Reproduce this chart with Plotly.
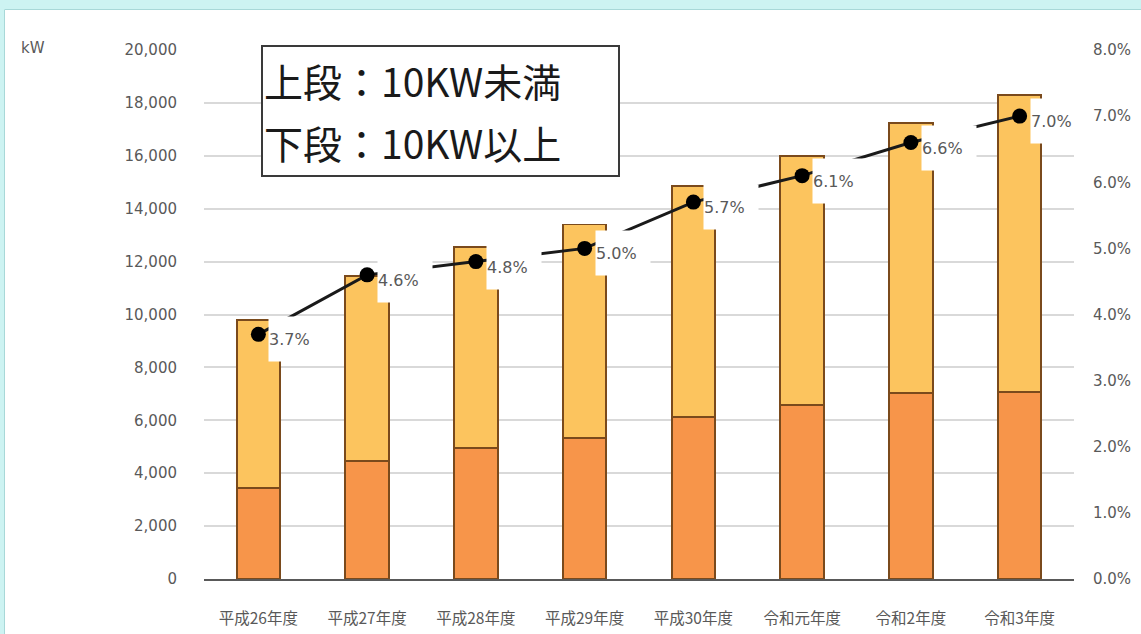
import plotly.graph_objects as go

categories = ["平成26年度", "平成27年度", "平成28年度", "平成29年度",
              "平成30年度", "令和元年度", "令和2年度", "令和3年度"]
lower_10kw_over = [3450, 4460, 4950, 5330, 6120, 6580, 7030, 7070]   # 下段：10KW以上
upper_10kw_under = [6350, 6990, 7600, 8070, 8730, 9420, 10220, 11230]  # 上段：10KW未満
share_pct = [0.037, 0.046, 0.048, 0.050, 0.057, 0.061, 0.066, 0.070]
left_ticks = [0, 2000, 4000, 6000, 8000, 10000, 12000, 14000, 16000, 18000, 20000]
right_ticks = [0, 0.01, 0.02, 0.03, 0.04, 0.05, 0.06, 0.07, 0.08]

W, H = 1141, 634
L, R, T, B = 204, 67, 50, 55
pw, ph = W - L - R, H - T - B

def px_x(px):
    return (px - L) / pw

def px_y(py):
    return (H - B - py) / ph

GRAY = "#595959"
EDGE = "#7a4a1c"
FONT = "Noto Sans CJK JP"
NUMFONT = "DejaVu Sans"

fig = go.Figure()
fig.add_trace(go.Bar(x=categories, y=lower_10kw_over, name="10KW以上",
                     marker=dict(color="#F7954A", line=dict(color=EDGE, width=1.8))))
fig.add_trace(go.Bar(x=categories, y=upper_10kw_under, name="10KW未満",
                     marker=dict(color="#FCC45E", line=dict(color=EDGE, width=1.8))))
fig.add_trace(go.Scatter(x=categories, y=share_pct, yaxis="y2", mode="lines+markers",
                         line=dict(color="#1a1a1a", width=3),
                         marker=dict(color="#000000", size=15),
                         showlegend=False))

annotations = []
for c, p in zip(categories, share_pct):
    annotations.append(dict(
        x=c, y=p, xref="x", yref="y2", text=f"{p*100:.1f}%",
        showarrow=False, xanchor="left", yanchor="middle",
        xshift=10, yshift=-5, width=54, height=44, align="left",
        bgcolor="#ffffff", borderpad=0,
        font=dict(family=NUMFONT, size=16, color=GRAY)))

# legend-like box
annotations.append(dict(x=px_x(261), y=px_y(45), xref="paper", yref="paper",
                        xanchor="left", yanchor="top", text=" ", showarrow=False,
                        width=355, height=128, bgcolor="#ffffff",
                        bordercolor="#3a3a3a", borderwidth=2, borderpad=0))
annotations.append(dict(x=px_x(262), y=px_y(80), xref="paper", yref="paper",
                        xanchor="left", yanchor="middle", text="上段：10KW未満",
                        showarrow=False, font=dict(family=FONT, size=39, color="#1a1a1a")))
annotations.append(dict(x=px_x(262), y=px_y(142), xref="paper", yref="paper",
                        xanchor="left", yanchor="middle", text="下段：10KW以上",
                        showarrow=False, font=dict(family=FONT, size=39, color="#1a1a1a")))
annotations.append(dict(x=px_x(19), y=px_y(48), xref="paper", yref="paper",
                        xanchor="left", yanchor="middle", text="kW",
                        showarrow=False, font=dict(family=NUMFONT, size=15, color=GRAY)))

shapes = [
    dict(type="rect", xref="paper", yref="paper", x0=px_x(-5), x1=px_x(W + 5),
         y0=px_y(-5), y1=px_y(9), fillcolor="#cdf3f2", line=dict(width=0), layer="below"),
    dict(type="rect", xref="paper", yref="paper", x0=px_x(-5), x1=px_x(5),
         y0=px_y(H + 5), y1=px_y(-5), fillcolor="#cdf3f2", line=dict(width=0), layer="below"),
    dict(type="line", xref="paper", yref="paper", x0=px_x(5), x1=px_x(W + 5),
         y0=px_y(9.5), y1=px_y(9.5), line=dict(color="#a8d8d8", width=1), layer="below"),
    dict(type="line", xref="paper", yref="paper", x0=px_x(4.5), x1=px_x(4.5),
         y0=px_y(9.5), y1=px_y(H + 5), line=dict(color="#a8d8d8", width=1), layer="below"),
]

fig.update_layout(
    width=W, height=H,
    margin=dict(l=L, r=R, t=T, b=B, autoexpand=False),
    barmode="stack", bargap=0.6,
    paper_bgcolor="#ffffff", plot_bgcolor="#ffffff",
    showlegend=False,
    font=dict(family=FONT, color=GRAY),
    xaxis=dict(type="category", range=[-0.5, len(categories) - 0.5],
               showgrid=False, showline=True, linecolor=GRAY,
               linewidth=2, ticks="", tickfont=dict(family=FONT, size=15.5, color=GRAY),
               ticklabelstandoff=24, automargin=False),
    yaxis=dict(range=[0, 20000], tickvals=left_ticks, tickformat=",",
               showgrid=True, gridcolor="#d9d9d9", gridwidth=1.5, zeroline=False,
               showline=False, ticks="", ticklabelstandoff=26, automargin=False,
               tickfont=dict(family=NUMFONT, size=15, color=GRAY)),
    yaxis2=dict(range=[0, 0.08], tickvals=right_ticks, tickformat=".1%",
                overlaying="y", side="right", showgrid=False, zeroline=False,
                showline=False, ticks="", ticklabelstandoff=18, automargin=False,
                tickfont=dict(family=NUMFONT, size=15, color=GRAY)),
    annotations=annotations,
    shapes=shapes,
)

fig.write_html("out.html", config={"displayModeBar": False},
               post_script="document.body.style.margin='0px';")
